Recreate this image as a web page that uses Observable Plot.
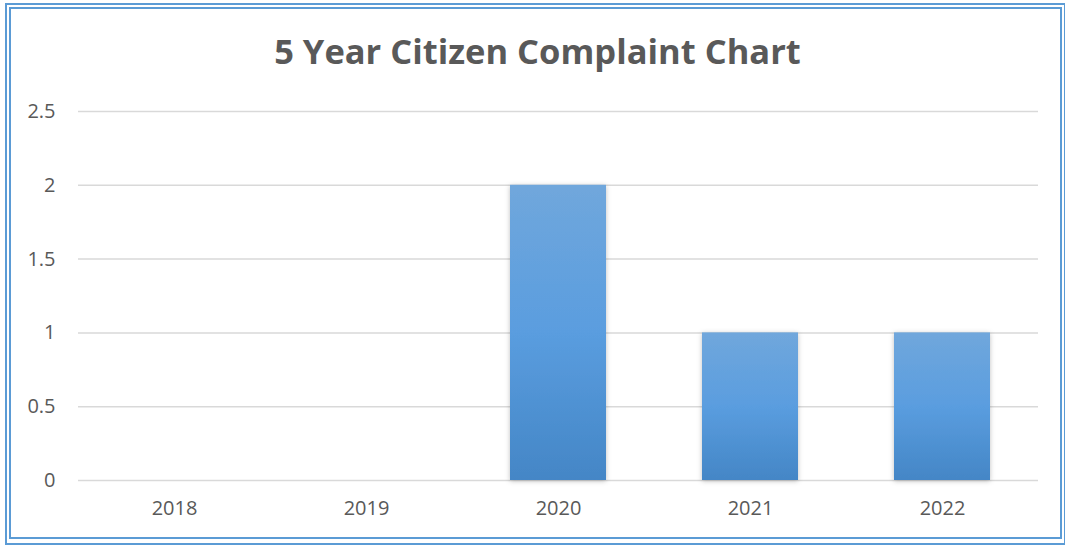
<!DOCTYPE html>
<html>
<head>
<meta charset="utf-8">
<script src="https://cdn.jsdelivr.net/npm/d3@7"></script>
<script src="https://cdn.jsdelivr.net/npm/@observablehq/plot@0.6"></script>
<style>
  html, body { margin: 0; padding: 0; background: #fff; }
  #wrap { position: relative; width: 1065px; height: 550px; overflow: hidden; font-family: "Open Sans", sans-serif; }
  .b1 { position: absolute; left: 5px; top: 3px; width: 1061px; height: 542px; box-sizing: border-box; border: 2px solid #5b9bd5; }
  .b2 { position: absolute; left: 9px; top: 7px; width: 1053px; height: 532px; box-sizing: border-box; border: 2px solid #5b9bd5; }
  #title { position: absolute; left: 0; width: 1075px; top: 34px; text-align: center; font-family: "Open Sans", sans-serif; font-weight: 700; font-size: 34.5px; color: #595959; line-height: 1; }
  #chart { position: absolute; left: 0; top: 90px; }
</style>
</head>
<body>
<div id="wrap">
  <div class="b1"></div>
  <div class="b2"></div>
  <div id="title">5 Year Citizen Complaint Chart</div>
  <div id="chart"></div>
</div>
<script>
const years = ["2018", "2019", "2020", "2021", "2022"];
const complaints = [0, 0, 2, 1, 1];
const yTicks = [0, 0.5, 1, 1.5, 2, 2.5];

const data = years.map((y, i) => ({year: y, value: complaints[i]}));

const plot = Plot.plot({
  width: 1065,
  height: 440,
  marginLeft: 78,
  marginRight: 27,
  marginTop: 21,
  marginBottom: 50,
  style: {fontFamily: "Open Sans, sans-serif", fontSize: "20px", color: "#595959", background: "transparent"},
  x: {domain: years, paddingInner: 0.5, paddingOuter: 0.25, label: null},
  y: {domain: [0, 2.5], label: null},
  marks: [
    Plot.gridY(yTicks, {stroke: "#d9d9d9", strokeOpacity: 1, strokeWidth: 1.5}),
    Plot.barY(data.filter(d => d.value > 0), {x: "year", y: "value", fill: "url(#barGrad)", className: "bars"}),
    Plot.axisX({tickSize: 0, tickPadding: 20, fontSize: 20, fill: "#595959"}),
    Plot.axisY({ticks: yTicks, tickSize: 0, tickPadding: 23, fontSize: 20, fill: "#595959", tickFormat: d => String(d)})
  ]
});

const ns = "http://www.w3.org/2000/svg";
const defs = document.createElementNS(ns, "defs");
defs.innerHTML = `
  <linearGradient id="barGrad" x1="0" y1="0" x2="0" y2="1">
    <stop offset="0" stop-color="#70a7dc"/>
    <stop offset="0.5" stop-color="#5a9ddf"/>
    <stop offset="1" stop-color="#4486c6"/>
  </linearGradient>
  <filter id="barShadow" x="-20%" y="-10%" width="140%" height="120%">
    <feDropShadow dx="0" dy="1" stdDeviation="2.5" flood-color="#000" flood-opacity="0.25"/>
  </filter>`;
plot.insertBefore(defs, plot.firstChild);
plot.querySelectorAll(".bars rect").forEach(r => r.setAttribute("filter", "url(#barShadow)"));
document.getElementById("chart").appendChild(plot);
</script>
</body>
</html>
